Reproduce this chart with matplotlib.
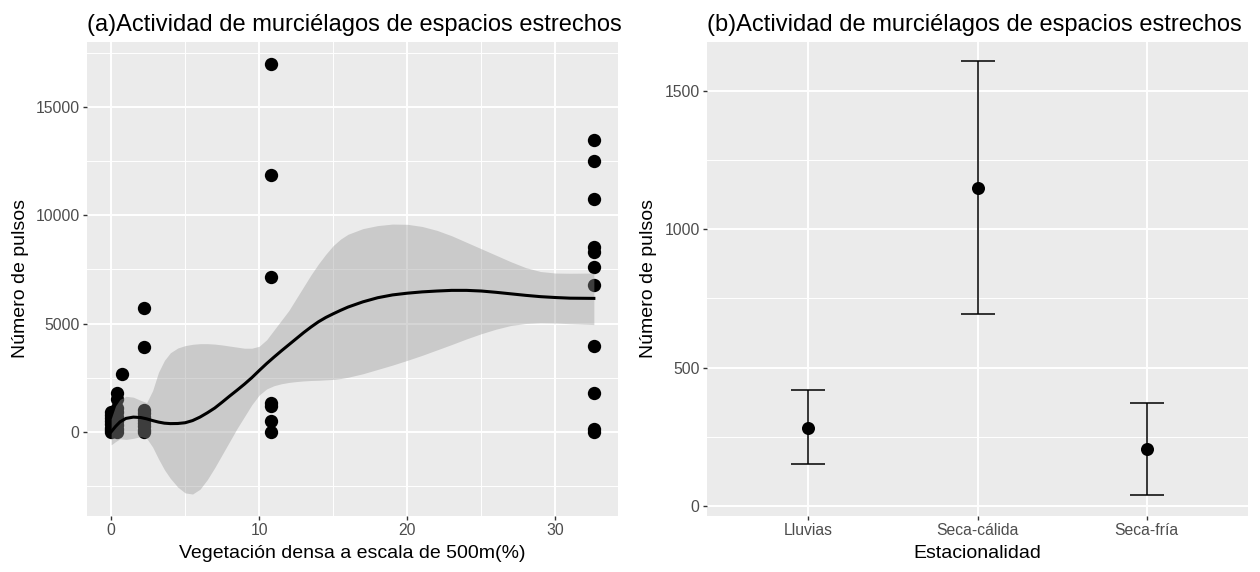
import numpy as np
import matplotlib
matplotlib.use("Agg")
import matplotlib.pyplot as plt
from matplotlib.ticker import MultipleLocator

plt.rcParams['font.family'] = ['Liberation Sans', 'DejaVu Sans']

# ---- panel (a): raw counts vs dense vegetation ----
veg_x = [0, 0, 0, 0, 0, 0, 0, 0,
         0.4, 0.4, 0.4, 0.4, 0.4, 0.4, 0.4, 0.4, 0.4,
         0.7,
         2.2, 2.2, 2.2, 2.2, 2.2, 2.2, 2.2, 2.2, 2.2, 2.2,
         10.8, 10.8, 10.8, 10.8, 10.8, 10.8, 10.8,
         32.6, 32.6, 32.6, 32.6, 32.6, 32.6, 32.6, 32.6, 32.6, 32.6, 32.6]
pulsos = [0, 100, 200, 350, 500, 650, 800, 900,
          0, 150, 300, 500, 700, 900, 1100, 1500, 1800,
          2650,
          0, 100, 250, 400, 550, 700, 850, 1000, 3920, 5700,
          0, 490, 1180, 1340, 7130, 11850, 17000,
          0, 150, 1780, 3970, 6800, 7630, 8280, 8530, 10760, 12520, 13480]

# loess curve and its confidence band
smooth_x = [0, 0.3, 0.6, 1.0, 1.5, 2.0, 2.4, 2.8, 3.2, 3.6, 4.0, 4.5, 5.0, 5.5, 6.0, 6.5,
            7.0, 7.5, 8.0, 8.5, 9.0, 9.5, 10.0, 10.5, 11.0, 11.5, 12.0, 12.5, 13.0, 13.5,
            14.0, 14.5, 15.0, 15.5, 16.0, 17.0, 18.0, 19.0, 20.0, 21.0, 22.0, 23.0,
            24.0, 25.0, 26.0, 27.0, 28.0, 29.0, 30.0, 31.0, 32.6]
smooth_fit = [0, 250, 460, 620, 680, 660, 600, 520, 450, 400, 380, 385, 420, 520, 680, 880,
              1100, 1370, 1650, 1920, 2200, 2500, 2830, 3150, 3450, 3740, 4020, 4300, 4580, 4840,
              5080, 5280, 5450, 5610, 5760, 6000, 6190, 6320, 6400, 6460, 6500, 6530,
              6530, 6500, 6440, 6370, 6300, 6240, 6200, 6170, 6160]
smooth_hi = [600, 1200, 1500, 1640, 1600, 1450, 1350, 1900, 2750, 3300, 3650, 3870, 3980, 4040, 4070, 4070,
             4050, 4010, 3960, 3910, 3860, 3860, 3950, 4250, 4700, 5150, 5600, 6150, 6700, 7250,
             7750, 8200, 8600, 8900, 9120, 9380, 9520, 9590, 9580, 9480, 9300, 9050,
             8750, 8450, 8150, 7850, 7580, 7400, 7330, 7320, 7330]
smooth_lo = [-600, -450, -320, -350, -300, -220, -300, -700, -1250, -1750, -2150, -2550, -2820, -2870, -2650, -2200,
             -1650, -1050, -450, 150, 700, 1250, 1700, 1980, 2130, 2220, 2280, 2320, 2350, 2370,
             2380, 2400, 2420, 2460, 2520, 2680, 2880, 3080, 3300, 3530, 3780, 4030,
             4290, 4530, 4740, 4910, 5000, 5030, 5020, 4990, 4950]

# ---- panel (b): mean +/- error by season ----
estaciones = ['Lluvias', 'Seca-cálida', 'Seca-fría']
media = [284, 1147, 206]
err_lo = [151, 693, 42]
err_hi = [418, 1605, 373]

BG = '#EBEBEB'
TICK_TXT = '#4D4D4D'


def gg_style(ax):
    ax.set_facecolor(BG)
    for s in ax.spines.values():
        s.set_visible(False)
    ax.grid(which='major', color='white', linewidth=1.4)
    ax.grid(which='minor', color='white', linewidth=0.7)
    ax.set_axisbelow(True)
    ax.tick_params(which='major', length=2.75, width=1.0, color='#333333',
                   labelcolor=TICK_TXT, labelsize=11.3, pad=2.5)
    ax.tick_params(which='minor', length=0)


fig = plt.figure(figsize=(12.6, 5.72), dpi=100)
ax1 = fig.add_axes([87 / 1260, 56 / 572, 531 / 1260, 474 / 572])
ax2 = fig.add_axes([707 / 1260, 56 / 572, 541 / 1260, 474 / 572])

# panel a
gg_style(ax1)
ax1.scatter(veg_x, pulsos, s=92, color='black', linewidths=0, zorder=2)
ax1.fill_between(smooth_x, smooth_lo, smooth_hi, color='#999999', alpha=0.4,
                 linewidth=0, zorder=3)
ax1.plot(smooth_x, smooth_fit, color='black', linewidth=2.2, zorder=4)
ax1.set_xlim(-1.63, 34.23)
ax1.set_ylim(-3885, 17995)
ax1.xaxis.set_major_locator(MultipleLocator(10))
ax1.xaxis.set_minor_locator(MultipleLocator(5))
ax1.yaxis.set_major_locator(MultipleLocator(5000))
ax1.yaxis.set_minor_locator(MultipleLocator(2500))
ax1.set_xlabel('Vegetación densa a escala de 500m(%)', fontsize=14, labelpad=5)
ax1.set_ylabel('Número de pulsos', fontsize=14, labelpad=5)
ax1.set_title('(a)Actividad de murciélagos de espacios estrechos', fontsize=17,
              loc='left', pad=8)

# panel b
gg_style(ax2)
pos = np.arange(1, len(estaciones) + 1)
yerr = [np.array(media) - np.array(err_lo), np.array(err_hi) - np.array(media)]
ax2.errorbar(pos, media, yerr=yerr, fmt='none', ecolor='black', elinewidth=1.1,
             capsize=12, capthick=1.1, zorder=3)
ax2.scatter(pos, media, s=88, color='black', linewidths=0, zorder=4)
ax2.set_xlim(0.4, 3.6)
ax2.set_ylim(-35, 1675)
ax2.set_xticks(pos)
ax2.set_xticklabels(estaciones)
ax2.yaxis.set_major_locator(MultipleLocator(500))
ax2.yaxis.set_minor_locator(MultipleLocator(250))
ax2.set_xlabel('Estacionalidad', fontsize=14, labelpad=5)
ax2.set_ylabel('Número de pulsos', fontsize=14, labelpad=5)
ax2.set_title('(b)Actividad de murciélagos de espacios estrechos', fontsize=17,
              loc='left', pad=8)

fig.savefig('out.png', dpi=100, facecolor='white')
